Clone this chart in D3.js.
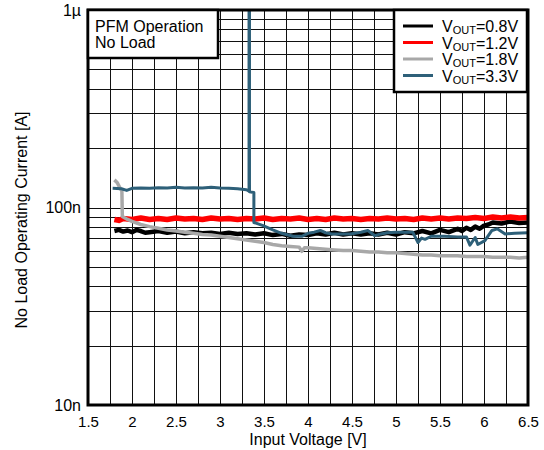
<!DOCTYPE html>
<html>
<head>
<meta charset="utf-8">
<script src="https://cdn.jsdelivr.net/npm/d3@7"></script>
<style>
  body { margin: 0; background: #fff; }
  svg text { font-family: "Liberation Sans", Arial, sans-serif; fill: #000; }
</style>
</head>
<body>
<svg width="544" height="450"></svg>
<script>
"use strict";

// values in nA, voltages in V
var blackV = [1.80,1.85,1.90,1.95,2.0,2.05,2.1,2.15,2.2,2.3,2.4,2.5,2.6,2.7,2.8,2.9,3.0,3.1,3.2,3.3,3.4,3.5,3.6,3.7,3.8,3.9,4.0,4.1,4.2,4.3,4.4,4.5,4.6,4.7,4.8,4.9,5.0,5.1,5.2,5.3,5.4,5.5,5.6,5.7,5.75,5.8,5.85,5.9,5.95,6.0,6.05,6.1,6.2,6.3,6.4,6.5];
var blackI = [76,77,75.5,76.5,75,77,76,74.5,75,76,74.5,75.5,74,75,74,74.5,73.5,74.5,73.5,74,73,74,72.5,73.5,72,73,72.5,74,73,74.5,73,74,73,74,73,74.5,73,75,74,76,74,77,75,78,76,79,77,80,78,81,82,84,83,85,83.5,84];

var redV = [1.8,1.85,1.9,2.0,2.1,2.2,2.3,2.4,2.5,2.6,2.7,2.8,2.9,3.0,3.1,3.2,3.3,3.4,3.5,3.6,3.7,3.8,3.9,4.0,4.1,4.2,4.3,4.4,4.5,4.6,4.7,4.8,4.9,5.0,5.1,5.2,5.3,5.4,5.5,5.6,5.7,5.8,5.9,6.0,6.1,6.2,6.3,6.4,6.5];
var redI = [87,86,88,87,88.5,87,88,87,88.5,87.5,88,87,88.5,87.5,88,87,88,87.5,88.5,87,88,87.5,88.5,87,88,87,88.5,87.5,88,87,88,87.5,88.5,87.5,88,87,88.5,87.5,88.5,87.5,88.5,88,89,88,89.5,88.5,89.5,88.5,89];

var grayV = [1.80,1.83,1.87,1.885,1.89,1.95,2.0,2.1,2.2,2.3,2.4,2.5,2.6,2.7,2.8,2.9,3.0,3.1,3.2,3.3,3.4,3.5,3.6,3.7,3.8,3.9,3.93,3.96,4.0,4.1,4.2,4.3,4.4,4.5,4.6,4.7,4.8,4.9,5.0,5.1,5.2,5.3,5.4,5.5,5.6,5.7,5.8,5.9,6.0,6.1,6.2,6.3,6.4,6.5];
var grayI = [138,134,124,122,90,87,85,82,80,78.5,77,76,75,74,73,72.5,71.5,70.5,69.5,68.5,67.5,66.5,65,64,63.5,63,60,62.5,62.5,62,61.5,61,60.5,60.5,60,59.5,59.5,59,59,58.5,58,57.5,57.5,57,57,57,56.5,56.5,56.5,56,56,56,55.5,56];

var blueV = [1.78,1.88,1.94,2.0,2.1,2.2,2.3,2.4,2.5,2.6,2.7,2.8,2.9,3.0,3.1,3.2,3.3,3.33,3.33,3.335,3.335,3.385,3.385,3.49,3.6,3.7,3.83,3.93,4.0,4.07,4.14,4.2,4.27,4.4,4.48,4.6,4.68,4.76,4.83,4.9,5.0,5.19,5.25,5.29,5.33,5.4,5.55,5.7,5.8,5.84,5.9,5.93,6.01,6.09,6.15,6.24,6.35,6.5];
var blueI = [125,124.5,122,125,125.5,125,126,125.5,126.5,125.5,126,125.5,126.5,125.5,125,124.5,123,121,1500,1500,120,119,84,81,77,74,71.5,71.5,74,75,76.5,74.5,73.5,73.5,73.5,75,76.5,72,73.5,74.5,75,75,66.5,70,69,71.5,71.5,71,71,64.5,70.5,65,68,76.5,78,73.5,74,74.5];

var xTicks = [1.5,2,2.5,3,3.5,4,4.5,5,5.5,6,6.5];
var yTicks = [1e-8,1e-7,1e-6];
var yTickLabels = ["10n","100n","1\u00b5"];

var series = [
  { name: "0.8V", v: blackV, i: blackI, color: "#000000", w: 4.5 },
  { name: "1.2V", v: redV, i: redI, color: "#ff0000", w: 5.5 },
  { name: "1.8V", v: grayV, i: grayI, color: "#a8a8a8", w: 3.5 },
  { name: "3.3V", v: blueV, i: blueI, color: "#2e6079", w: 3 }
];

var svg = d3.select("svg");
var pLeft = 88, pRight = 528, pTop = 10, pBottom = 405;

var x = d3.scaleLinear().domain([1.5, 6.5]).range([pLeft, pRight]);
var y = d3.scaleLog().domain([1e-8, 1e-6]).range([pBottom, pTop]);

svg.append("defs").append("clipPath").attr("id", "plotclip")
  .append("rect").attr("x", pLeft).attr("y", pTop)
  .attr("width", pRight - pLeft).attr("height", pBottom - pTop);

// grid
var grid = svg.append("g").attr("stroke", "#111").attr("stroke-width", 1);
d3.range(1.5, 6.5001, 0.25).forEach(function (v) {
  var px = Math.round(x(v)) + 0.5;
  grid.append("line").attr("x1", px).attr("x2", px).attr("y1", pTop).attr("y2", pBottom);
});
y.ticks().forEach(function (t) {
  var py = Math.round(y(t)) + 0.5;
  grid.append("line").attr("x1", pLeft).attr("x2", pRight).attr("y1", py).attr("y2", py);
});

// data lines
var line = d3.line()
  .x(function (d) { return x(d[0]); })
  .y(function (d) { return y(d[1] * 1e-9); });

var plot = svg.append("g").attr("clip-path", "url(#plotclip)");
series.forEach(function (s) {
  var pts = s.v.map(function (v, k) { return [v, s.i[k]]; });
  plot.append("path").datum(pts)
    .attr("d", line)
    .attr("fill", "none")
    .attr("stroke", s.color)
    .attr("stroke-width", s.w)
    .attr("stroke-linejoin", "round");
});

// frame
svg.append("rect").attr("x", pLeft).attr("y", pTop)
  .attr("width", pRight - pLeft).attr("height", pBottom - pTop)
  .attr("fill", "none").attr("stroke", "#000").attr("stroke-width", 3);

// axes
var xAxis = d3.axisBottom(x).tickValues(xTicks).tickSize(0).tickPadding(11)
  .tickFormat(function (d) { return String(d); });
var gx = svg.append("g").attr("transform", "translate(0," + pBottom + ")").call(xAxis);
gx.select(".domain").remove();
gx.selectAll("text").attr("font-size", 15).style("font-family", "Liberation Sans, Arial, sans-serif");

var yAxis = d3.axisLeft(y).tickValues(yTicks).tickSize(0).tickPadding(7)
  .tickFormat(function (d, k) { return yTickLabels[k]; });
var gy = svg.append("g").attr("transform", "translate(" + pLeft + ",0)").call(yAxis);
gy.select(".domain").remove();
gy.selectAll("text").attr("font-size", 16).style("font-family", "Liberation Sans, Arial, sans-serif");

svg.append("text").attr("x", (pLeft + pRight) / 2).attr("y", 445)
  .attr("text-anchor", "middle").attr("font-size", 16).text("Input Voltage [V]");

svg.append("text").attr("transform", "translate(27,220) rotate(-90)")
  .attr("text-anchor", "middle").attr("font-size", 16).text("No Load Operating Current [A]");

// note box
svg.append("rect").attr("x", pLeft).attr("y", pTop).attr("width", 130).attr("height", 48)
  .attr("fill", "#fff").attr("stroke", "#000").attr("stroke-width", 2.5);
svg.append("text").attr("x", 95).attr("y", 32).attr("font-size", 16).text("PFM Operation");
svg.append("text").attr("x", 95).attr("y", 48).attr("font-size", 16).text("No Load");

// legend
var lg = svg.append("g");
lg.append("rect").attr("x", 394).attr("y", pTop).attr("width", 133).attr("height", 82)
  .attr("fill", "#fff").attr("stroke", "#000").attr("stroke-width", 2.5);
series.forEach(function (s, k) {
  var ly = 26 + k * 16.5;
  lg.append("line").attr("x1", 403).attr("x2", 433).attr("y1", ly).attr("y2", ly)
    .attr("stroke", s.color).attr("stroke-width", 3);
  var t = lg.append("text").attr("x", 442).attr("y", ly + 6).attr("font-size", 16);
  t.append("tspan").text("V");
  t.append("tspan").attr("font-size", 11).attr("dy", 2).text("OUT");
  t.append("tspan").attr("dy", -2).text("=" + s.name);
});
</script>
</body>
</html>
